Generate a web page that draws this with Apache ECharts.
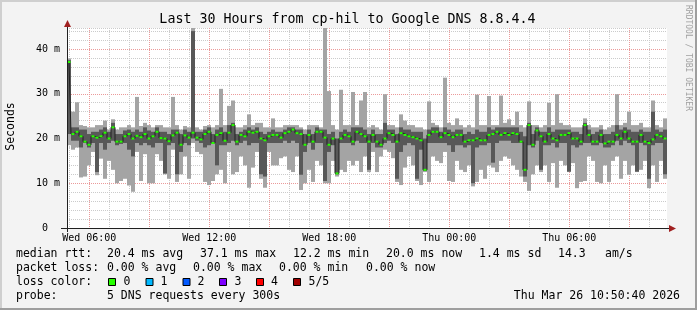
<!DOCTYPE html>
<html><head><meta charset="utf-8">
<script src="https://cdn.jsdelivr.net/npm/echarts@6/dist/echarts.min.js"></script>
<style>html,body{margin:0;padding:0;background:#f3f3f3}#c{width:697px;height:310px}</style>
</head><body><div id="c"></div>
<script>
// time: hours since Wed 00:00, 12-minute bins
const T0 = 4.885, STEP = 0.2;
const lo  = [18.5,17.5,18,11.3,11.5,14,17,11.8,15.5,11,15,13,10,10.5,11,9.5,8.1,17,10.5,16.5,10,10,16.5,15,12,11,17.5,10.3,12,16,11,19,17,16.5,10.3,9.6,10.5,
12,13,10,17,12,12.5,16,14,9,13.5,17,11,9,17,14,14,15.6,16,13,12.5,16,8.5,10,13,10.3,15,14,10,10,15,11.5,13,12.5,15,14,15,12.5,
16,12.5,17,12.5,16,17.5,17,15.6,10.3,9.6,13.5,16,14,10.5,9.6,12.5,10.3,16,15,14.5,17,10.5,10.3,15,13,12.5,14,9.3,10.3,13,11,14,13.5,12.5,15,16,15.5,14,
13,11.5,10.3,8.3,12,14,12.5,14,10.3,14.5,9,15,14,12.5,14.5,8.9,10.3,10.5,16,15,10.3,10,14,10.3,15,16,11,15,11.9,14,12.5,13,15,8.9,14,10.3,15,11];
const lo2 = [21,19.5,19.5,18,19,18,19,12.5,19,17.5,19,19.5,18.5,18.8,19,17.5,16,19,18.5,19,18.5,18,19,19,12.2,18.5,19,12,17,19,18.5,20,19.5,19,18,18.5,19,
14,18.5,18.5,19,19.5,18.5,19,19.5,18.5,19,19,12,11.5,19,19,19,19,19.5,19,19.5,19,11.9,17,19,17.5,19,19,10.5,17,18.5,12,19,19,19,18.5,19.5,19,
19,13,19,18,18,19,19.5,19,11,17,18.5,19,18.5,11,17.5,12.8,19,19,19,19,19,18.5,17,18.5,18.5,18,18.5,10,18,18.5,18.5,19,14.6,19,19.5,19.5,19.5,19,
19,19,11.5,18.5,18,19.5,13,18.5,18.5,19,18,19,19,12.6,18.5,18,18.5,19,19,18.5,18.5,19,18,18,18.5,19.5,18.5,19.5,19,18.5,12.6,19,18.5,11,18.5,19,19,12];
const med = [37.1,21,21.5,20.5,19.3,18.6,20.5,20.2,20.5,21.3,20,22.5,19.3,19.3,20.5,21,20,20.6,20.3,21,20,20.5,21.5,20.1,20,19.4,20.7,21.3,18.6,20.7,20.2,21.3,20.2,19.8,21,21.5,19,
20.8,21.2,19.5,21.3,23,19.3,20.8,20.5,21.5,21.3,21.5,20,19.6,20.5,20.8,20.8,20.2,21.2,21.5,22,21.2,21,18.6,20.8,19.3,21.5,21.5,20.2,18.6,20,12.2,20,20.8,20.5,19.3,21.5,21,
20.5,19.3,20.8,19.3,18.6,20,21.2,20.8,19.3,21.2,20.8,20.5,20.3,20,19.6,13,20.8,21.5,21.5,20.3,21.2,20.8,20.3,20.8,20.8,19.3,19.6,19.6,20,19.6,19.6,20.8,21,21.5,20.8,21.2,20.8,21.2,
21,19.3,13,23,18.6,21.8,20.5,19.3,21,20,19.6,20.8,20.8,21.2,20,20,19.3,23,20.8,19.3,19.3,20.8,18.9,19.3,19.3,20.8,20,21.5,20,19.3,19.3,20.8,19.3,19,19.8,20.8,20.5,20];
const hi2 = [37.5,22.5,22.5,22,22,21,21.5,21.5,22,22.5,21.5,23.5,21,21,21.8,22,21.5,22,21.5,22.5,21.8,21.5,22.5,21.5,21.5,21,22,22,21,22,21.5,44,21.5,21.5,22,22.5,21,
22,22.5,21.5,23,23.5,21,21.5,22,22.5,22,22.5,21.5,21,21.5,22,21.5,21.5,22,22.5,22.5,22,22,21,22,21,22.5,22,22,21,21.5,20,21.5,22,21.5,22.5,22.5,22.5,
22,21,22,21,21,23.5,22,22,21,22.5,22,22,21.5,21.5,21.5,20,22,22.5,22.5,21.5,22.5,22,21.5,22,22,21,21.5,21,22,21.5,21.5,22.5,22,22.5,22.5,22.5,22.5,22.5,
22.5,21.5,20.5,23.5,21,22.5,21.5,21.5,22.5,21.5,22,22,22,22,21.5,21.5,21,23.5,22,21,21.5,22,21,21,21.5,23,22,22.5,22,21.5,21.5,22,21.5,21.5,26,22,21.5,22];
const hi  = [37.9,26,28.1,23,22.8,22.5,22.5,23,23,24,22,24.3,22,22.5,22.5,23,22.5,29.3,22.8,23.5,23,22.5,23,23,22.5,22.5,29.3,23,22,22.8,22.5,44.7,22.5,22,22.8,23,22.5,
23,31.1,23,27.3,28.5,22.5,22.5,23,25.4,23,23.5,23.5,22.5,22.5,24.5,22.5,22.5,23,23,23,23,22.5,22,23,23,23,22.5,44.7,30.6,23,22,30.9,23,23,30.4,23,28.5,
30.4,22.5,23,22.5,22,29.9,23,23,22.5,25.4,24,23,23,22.5,22.5,22,28.3,23.5,23,22.5,33.6,23.5,23,24.5,23,22.5,23,22.5,29.8,23,23,29.5,23,23,29.6,23.5,24.3,23,
26,23,22.5,28.3,23,23,22.5,23,28,23,29.9,23.5,23,23,22.5,22.5,22.5,24.5,23,22.5,22.5,23,22,22.5,23,29.9,23,23.5,26,23,23,23.5,22.5,22.5,28.5,23,22.5,24.5];
const hourTicks = [5,6,7,8,9,10,11,12,13,14,15,16,17,18,19,20,21,22,23,24,25,26,27,28,29,30,31,32,33,34];
const labelHours = [6,12,18,24,30];
const lossColors = ['#26ff00','#00b8ff','#0059ff','#7e00ff','#ff0000','#a00000'];
const lossLabels = ['0','1','2','3','4','5/5'];

const times = med.map((_, i) => T0 + (i + 0.5) * STEP);
const MONO = '"DejaVu Sans Mono", monospace';
const GRID = '#cbcbcb', MGRID = '#eb9a9a';
const YMAX = 44.7;

const chart = echarts.init(document.getElementById('c'), null, {renderer: 'canvas'});

const g = [];
function txt(s, x, y, opt) {
  g.push({type: 'text', silent: true, style: Object.assign({
    text: s, x: x, y: y, font: '11.5px ' + MONO, fill: '#000', verticalAlign: 'middle', align: 'left'
  }, opt || {})});
}
txt('median rtt:', 16, 254.5);
txt('20.4 ms avg', 107, 254.5);
txt('37.1 ms max', 200, 254.5);
txt('12.2 ms min', 293, 254.5);
txt('20.0 ms now', 386, 254.5);
txt('1.4 ms sd', 479, 254.5);
txt('14.3', 558, 254.5);
txt('am/s', 605, 254.5);
txt('packet loss:', 16, 268);
txt('0.00 % avg', 107, 268);
txt('0.00 % max', 193, 268);
txt('0.00 % min', 279, 268);
txt('0.00 % now', 366, 268);
txt('loss color:', 16, 282.5);
const boxX = [108.5, 146, 183, 219.5, 256.5, 293.5];
const labX = [123.5, 160.5, 197.5, 234.5, 271, 308.5];
lossColors.forEach((c, i) => {
  g.push({type: 'rect', silent: true, shape: {x: boxX[i], y: 278.5, width: 7, height: 7},
    style: {fill: c, stroke: '#000', lineWidth: 1}});
  txt(lossLabels[i], labX[i], 282.5);
});
txt('probe:', 16, 296);
txt('5 DNS requests every 300s', 107, 296);
txt('Thu Mar 26 10:50:40 2026', 680, 296, {align: 'right'});
txt('Last 30 Hours from cp-hil to Google DNS 8.8.4.4', 347.5, 19.5, {align: 'center', font: '13.3px ' + MONO});
g.push({type: 'text', silent: true, x: 11, y: 126.5, rotation: Math.PI / 2,
  style: {text: 'Seconds', font: '11.5px ' + MONO, fill: '#000', align: 'center', verticalAlign: 'middle'}});
g.push({type: 'text', silent: true, x: 688.5, y: 5, rotation: -Math.PI / 2,
  style: {text: 'RRDTOOL / TOBI OETIKER', font: '8px ' + MONO, fill: '#a0a0a0', align: 'left', verticalAlign: 'middle'}});
g.push({type: 'rect', silent: true, shape: {x: 0, y: 0, width: 697, height: 2}, style: {fill: '#cfcfcf'}});
g.push({type: 'rect', silent: true, shape: {x: 0, y: 0, width: 2, height: 310}, style: {fill: '#cfcfcf'}});
g.push({type: 'rect', silent: true, shape: {x: 0, y: 308, width: 697, height: 2}, style: {fill: '#9e9e9e'}});
g.push({type: 'rect', silent: true, shape: {x: 695, y: 0, width: 2, height: 310}, style: {fill: '#9e9e9e'}});
g.push({type: 'line', silent: true, shape: {x1: 61, y1: 228.5, x2: 671, y2: 228.5}, style: {stroke: '#202020', lineWidth: 1}, z: 10});
g.push({type: 'line', silent: true, shape: {x1: 67.5, y1: 23, x2: 67.5, y2: 232}, style: {stroke: '#202020', lineWidth: 1}, z: 10});
g.push({type: 'polygon', silent: true, shape: {points: [[67.5, 20], [64, 27], [71, 27]]}, style: {fill: '#a02020'}, z: 10});
g.push({type: 'polygon', silent: true, shape: {points: [[676, 228.5], [669, 225], [669, 232]]}, style: {fill: '#a02020'}, z: 10});

const option = {
  animation: false,
  backgroundColor: '#f3f3f3',
  grid: {left: 67, right: 30, top: 28, bottom: 82, show: true, backgroundColor: '#ffffff', borderWidth: 0},
  xAxis: {
    type: 'value', min: T0, max: T0 + 30,
    axisLine: {show: true, onZero: false, lineStyle: {color: '#202020'}},
    axisTick: {show: false},
    axisLabel: {
      customValues: labelHours, margin: 5, fontFamily: MONO, fontSize: 10, color: '#000',
      formatter: v => {
        const d = v < 24 ? 'Wed' : 'Thu';
        const h = Math.round(v) % 24;
        return d + ' ' + (h < 10 ? '0' : '') + h + ':00';
      }
    },
    splitLine: {show: false}
  },
  yAxis: {
    type: 'value', min: 0, max: YMAX, interval: 2,
    axisLine: {show: true, lineStyle: {color: '#202020'}},
    axisTick: {show: false},
    axisLabel: {
      margin: 7, fontFamily: MONO, fontSize: 10, color: '#000',
      formatter: v => v === 0 ? '0  ' : (Math.abs(v % 10) < 1e-9 ? v + ' m' : '')
    },
    splitLine: {show: true, lineStyle: {color: [MGRID, GRID, GRID, GRID, GRID], type: [1, 1], width: 1}}
  },
  series: [
    {
      type: 'custom', name: 'hour grid', z: 1, silent: true,
      data: hourTicks.map(h => [h]),
      encode: {x: 0},
      renderItem: (params, api) => {
        const h = api.value(0);
        const top = api.coord([h, YMAX]);
        const bot = api.coord([h, 0]);
        const x = Math.round(top[0]) + 0.5;
        return {type: 'line', shape: {x1: x, y1: top[1], x2: x, y2: bot[1]},
          style: {stroke: h % 3 === 0 ? MGRID : GRID, lineWidth: 1, lineDash: [1, 1]}};
      }
    },
    {
      type: 'custom', name: 'smoke', z: 2,
      data: times.map((t, i) => [t, lo[i], lo2[i], hi2[i], hi[i]]),
      encode: {x: 0, y: [1, 2, 3, 4]},
      renderItem: (params, api) => {
        const t = api.value(0);
        const a = api.coord([t - STEP / 2, api.value(1)]);
        const b = api.coord([t + STEP / 2, api.value(4)]);
        const c = api.coord([t - STEP / 2, api.value(2)]);
        const d = api.coord([t + STEP / 2, api.value(3)]);
        return {type: 'group', children: [
          {type: 'rect', shape: {x: a[0], y: b[1], width: b[0] - a[0], height: a[1] - b[1]}, style: {fill: '#a4a4a4'}},
          {type: 'rect', shape: {x: c[0], y: d[1], width: d[0] - c[0], height: c[1] - d[1]}, style: {fill: '#585858'}}
        ]};
      }
    },
    {
      type: 'line', name: 'median line', step: 'middle', symbol: 'none',
      data: times.map((t, i) => [t, med[i]]),
      lineStyle: {color: '#202020', width: 1}, z: 3
    },
    {
      type: 'custom', name: 'median', z: 4,
      data: times.map((t, i) => [t, med[i]]),
      encode: {x: 0, y: 1},
      renderItem: (params, api) => {
        const t = api.value(0);
        const p = api.coord([t - STEP / 2, api.value(1)]);
        const q = api.coord([t + STEP / 2, api.value(1)]);
        return {type: 'rect', shape: {x: p[0] + 0.5, y: p[1] - 1, width: q[0] - p[0] - 1, height: 2}, style: {fill: lossColors[0]}};
      }
    }
  ],
  graphic: g
};
chart.setOption(option);
</script>
</body></html>
